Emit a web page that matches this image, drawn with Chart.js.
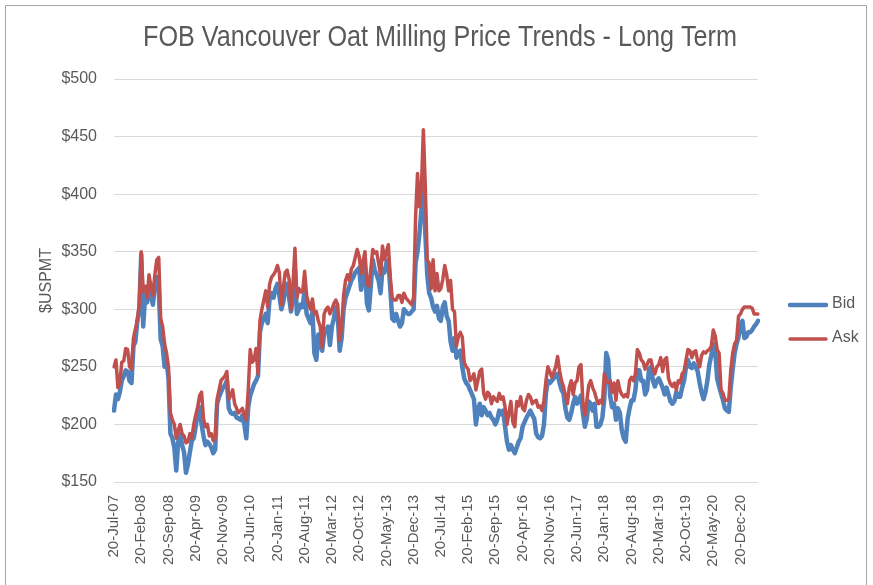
<!DOCTYPE html>
<html>
<head>
<meta charset="utf-8">
<script src="https://cdn.jsdelivr.net/npm/chart.js@4.4.1/dist/chart.umd.min.js"></script>
<style>
  body { margin: 0; background: #fff; }
</style>
</head>
<body>
<canvas id="oat-chart" width="873" height="585"></canvas>
<script>
  // semi-monthly readings (20th and 5th), 20-Jul-07 .. 5-May-21
  const bid = [
    212, 226, 222, 228, 238, 242, 247, 246, 238, 236,
    268, 272, 290, 300, 348, 285, 312, 306, 318, 312,
    304, 320, 328, 318, 274, 268, 250, 255, 240, 192,
    188, 180, 160, 185, 192, 182, 176, 158, 165, 176,
    186, 188, 198, 210, 215, 200, 190, 182, 185, 183,
    180, 175, 178, 218, 224, 228, 232, 234, 238, 214,
    210, 209, 210, 206, 205, 204, 208, 200, 188, 215,
    225, 230, 235, 238, 242, 280, 288, 292, 296, 288,
    310, 314, 310, 318, 322, 312, 300, 306, 318, 322,
    310, 298, 312, 335, 296, 300, 304, 302, 318, 296,
    292, 288, 298, 262, 256, 278, 270, 264, 279, 282,
    285, 269, 285, 292, 302, 294, 264, 275, 300, 310,
    315, 320, 325, 328, 332, 334, 336, 317, 330, 337,
    305, 299, 320, 343, 334, 330, 325, 314, 335, 332,
    340, 343, 318, 292, 290, 296, 290, 285, 288, 300,
    298, 296, 296, 298, 300, 340, 350, 366, 386, 420,
    366, 330, 314, 310, 302, 298, 303, 292, 290, 302,
    306, 294, 290, 272, 264, 275, 258, 262, 264, 250,
    240, 236, 234, 230, 226, 222, 200, 212, 218, 208,
    215, 212, 208, 210, 206, 204, 200, 204, 212, 209,
    212, 198, 185, 178, 182, 178, 175, 180, 185, 188,
    198, 202, 206, 209, 212, 208, 205, 192, 189, 188,
    190, 200, 227, 238, 236, 238, 240, 242, 244, 236,
    230, 227, 214, 206, 204, 210, 218, 224, 218, 222,
    225, 210, 198, 205, 220, 218, 212, 218, 198, 198,
    200, 206, 222, 262, 256, 225, 215, 218, 204, 214,
    210, 195, 188, 185, 205, 214, 221, 221, 230, 247,
    247, 238, 238, 226, 230, 248, 250, 238, 233, 238,
    240, 236, 232, 226, 232, 226, 220, 218, 220, 228,
    224, 224, 232, 238, 250, 256, 250, 249, 253, 250,
    246, 236, 228, 222, 228, 238, 252, 260, 270, 264,
    240, 233, 227, 221, 214, 212, 211, 232, 248, 262,
    270, 276, 285, 290, 275, 276, 280, 280, 282, 285,
    287, 290
  ];

  const ask = [
    250, 256, 232, 236, 254, 255, 266, 265, 250, 248,
    275, 283, 290, 305, 350, 315, 320, 310, 330, 320,
    312, 330, 343, 345, 292, 285, 270, 262, 250, 210,
    204, 200, 188, 195, 200, 192, 190, 184, 185, 192,
    188, 200, 208, 215, 225, 228, 205, 198, 200, 190,
    192, 186, 188, 222, 230, 238, 240, 242, 246, 222,
    225, 230, 218, 214, 210, 212, 214, 208, 204, 230,
    265, 254, 256, 266, 244, 290, 300, 308, 316, 302,
    322, 328, 330, 333, 338, 332, 304, 318, 332, 334,
    326, 300, 322, 353, 310, 318, 315, 316, 333, 312,
    305, 300, 309, 296, 298, 290, 285, 267, 296, 300,
    302, 296, 300, 305, 308, 304, 273, 285, 312, 325,
    330, 325, 335, 338, 345, 352, 346, 331, 342, 350,
    322, 320, 335, 352, 349, 350, 340, 330, 355, 343,
    350, 356, 328, 310, 308, 308, 312, 312, 306, 314,
    310, 308, 306, 304, 310, 380, 418, 389, 405, 456,
    407, 343, 340, 318, 343, 316, 331, 316, 318, 326,
    338, 330, 316, 325, 300, 298, 268, 276, 280, 276,
    254, 250, 248, 238, 240, 244, 230, 238, 246, 248,
    227, 222, 228, 226, 218, 224, 222, 220, 227, 222,
    224, 215, 200, 210, 220, 202, 198, 220, 216, 224,
    214, 212, 221, 226, 224, 218, 220, 221, 215, 216,
    212, 221, 238, 250, 246, 241, 245, 250, 259, 247,
    238, 233, 225, 218, 232, 238, 226, 236, 238, 250,
    252, 220, 208, 220, 234, 238, 232, 228, 222, 218,
    221, 218, 244, 238, 236, 238, 228, 236, 221, 238,
    230, 226, 224, 226, 224, 238, 241, 238, 244, 265,
    262, 256, 254, 248, 252, 256, 256, 248, 244, 250,
    252, 258, 246, 256, 258, 240, 235, 233, 236, 230,
    238, 236, 244, 246, 256, 265, 264, 258, 263, 264,
    255, 250, 260, 263, 262, 264, 265, 268, 282, 277,
    265, 262, 230, 227, 221, 221, 222, 247, 262, 270,
    273, 294, 296, 300, 302, 302, 302, 302, 301, 296,
    296, 296
  ];

  const tickLabels = [
    '20-Jul-07', '20-Feb-08', '20-Sep-08', '20-Apr-09', '20-Nov-09', '20-Jun-10',
    '20-Jan-11', '20-Aug-11', '20-Mar-12', '20-Oct-12', '20-May-13', '20-Dec-13',
    '20-Jul-14', '20-Feb-15', '20-Sep-15', '20-Apr-16', '20-Nov-16', '20-Jun-17',
    '20-Jan-18', '20-Aug-18', '20-Mar-19', '20-Oct-19', '20-May-20', '20-Dec-20'
  ];

  const MONTHS = ['Jan', 'Feb', 'Mar', 'Apr', 'May', 'Jun', 'Jul', 'Aug', 'Sep', 'Oct', 'Nov', 'Dec'];

  // category dates: 20th of the month, then 5th of the next one
  const dates = [];
  for (let i = 0; i < bid.length; i++) {
    const m = 6 + Math.floor(i / 2) + (i % 2);   // months since Jan-07
    const day = i % 2 === 0 ? 20 : 5;
    const yy = String(7 + Math.floor(m / 12)).padStart(2, '0');
    dates.push(day + '-' + MONTHS[m % 12] + '-' + yy);
  }

  const TITLE = 'FOB Vancouver Oat Milling Price Trends - Long Term';
  const TEXT = '#595959';
  Chart.defaults.font.family = "'Liberation Sans', Arial, sans-serif";
  Chart.defaults.color = TEXT;

  // grey frame, white background and the (narrow) title
  const framePlugin = {
    id: 'frame',
    beforeDraw(chart) {
      const c = chart.ctx;
      c.save();
      c.fillStyle = '#fff';
      c.fillRect(0, 0, chart.width, chart.height);
      c.strokeStyle = '#a6a6a6';
      c.lineWidth = 1;
      c.beginPath();
      c.moveTo(5.5, chart.height);
      c.lineTo(5.5, 5.5);
      c.lineTo(866.5, 5.5);
      c.lineTo(866.5, chart.height);
      c.stroke();

      // title squeezed to the width it has in the original
      c.font = "30px 'Liberation Sans', Arial, sans-serif";
      c.fillStyle = TEXT;
      c.textBaseline = 'middle';
      c.textAlign = 'center';
      const w = c.measureText(TITLE).width;
      const sx = 594 / w;
      c.translate(440, 38);
      c.scale(sx, 1);
      c.fillText(TITLE, 0, 0);
      c.restore();
    }
  };

  // legend on the right, Excel style
  const sideLegend = {
    id: 'sideLegend',
    afterDraw(chart) {
      const c = chart.ctx;
      const rows = [{ ds: 0, y: 305 }, { ds: 1, y: 339 }];
      c.save();
      c.font = "16px 'Liberation Sans', Arial, sans-serif";
      c.textBaseline = 'middle';
      c.fillStyle = TEXT;
      rows.forEach(r => {
        const ds = chart.data.datasets[r.ds];
        c.strokeStyle = ds.borderColor;
        c.lineWidth = ds.borderWidth;
        c.lineCap = 'round';
        c.beginPath();
        c.moveTo(790, r.y);
        c.lineTo(826, r.y);
        c.stroke();
        c.fillText(ds.label, 832, r.y - 1);
      });
      c.restore();
    }
  };

  const ctx = document.getElementById('oat-chart').getContext('2d');

  const oatChart = new Chart(ctx, {
    type: 'line',
    data: {
      labels: dates,
      datasets: [
        {
          label: 'Bid',
          data: bid,
          borderColor: '#4f81bd',
          borderWidth: 4.5,
          order: 1,
        },
        {
          label: 'Ask',
          data: ask,
          borderColor: '#c0504d',
          borderWidth: 3.5,
          order: 0,
        },
      ],
    },
    options: {
      responsive: false,
      animation: false,
      elements: {
        point: { radius: 0 },
        line: { tension: 0, borderJoinStyle: 'round', borderCapStyle: 'round' },
      },
      layout: {
        padding: { left: 0, right: 115, top: 79, bottom: 0 },
      },
      plugins: {
        legend: { display: false },
        tooltip: { enabled: false },
        title: { display: false },
      },
      scales: {
        x: {
          type: 'category',
          offset: false,
          grid: { display: false, drawTicks: false },
          border: { display: false },
          ticks: {
            autoSkip: false,
            minRotation: 90,
            maxRotation: 90,
            padding: 13,
            font: { size: 15 },
            color: TEXT,
            callback(value) {
              const lab = this.getLabelForValue(value);
              return tickLabels.includes(lab) ? lab : '';
            },
          },
          afterFit(scale) {
            scale.height = 103;
          },
        },
        y: {
          min: 150,
          max: 500,
          grid: { color: '#d9d9d9', lineWidth: 1, drawTicks: false },
          border: { display: false },
          ticks: {
            stepSize: 50,
            padding: 17,
            font: { size: 16 },
            color: TEXT,
            callback: v => '$' + v,
          },
          title: {
            display: true,
            text: '$USPMT',
            color: TEXT,
            font: { size: 16 },
            padding: { top: 37, bottom: 0 },
          },
          afterFit(scale) {
            scale.width = 114;
          },
        },
      },
    },
    plugins: [framePlugin, sideLegend],
  });
</script>
</body>
</html>
